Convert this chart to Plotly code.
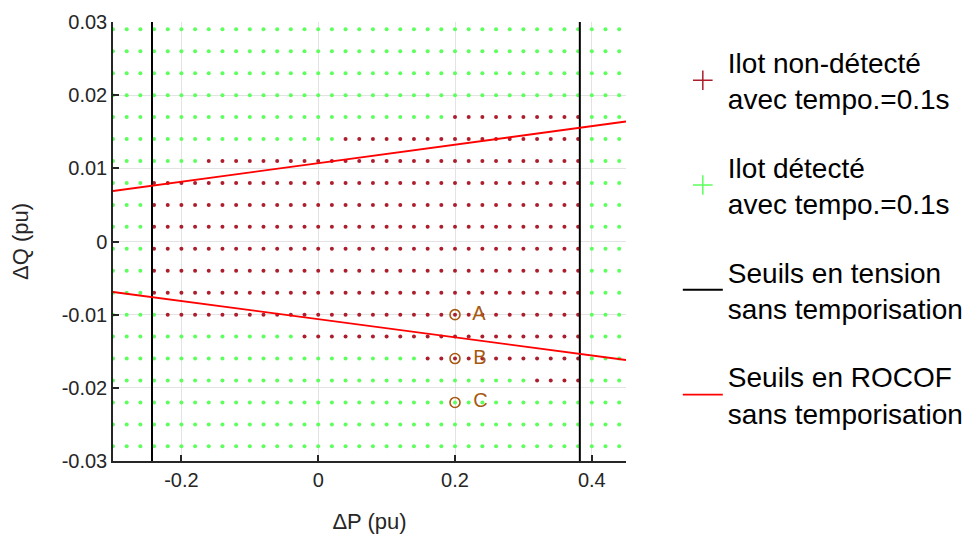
import plotly.graph_objects as go

# ---------------- data ----------------
dp_grid = [-0.30, -0.28, -0.26, -0.24, -0.22, -0.20, -0.18, -0.16, -0.14, -0.12,
           -0.10, -0.08, -0.06, -0.04, -0.02, 0.00, 0.02, 0.04, 0.06, 0.08,
           0.10, 0.12, 0.14, 0.16, 0.18, 0.20, 0.22, 0.24, 0.26, 0.28,
           0.30, 0.32, 0.34, 0.36, 0.38, 0.40, 0.42, 0.44]
dq_grid = [0.029, 0.026, 0.023, 0.020, 0.017, 0.014, 0.011, 0.008, 0.005, 0.002,
           -0.001, -0.004, -0.007, -0.010, -0.013, -0.016, -0.019, -0.022, -0.025, -0.028]

# rows where islanding is NOT detected (dQ value, dP from, dP to)
nd_rows_dq = [0.017, 0.014, 0.011, 0.008, 0.005, 0.002, -0.001, -0.004, -0.007,
              -0.010, -0.013, -0.016, -0.019]
nd_rows_dp_min = [0.20, 0.04, -0.16, -0.24, -0.24, -0.24, -0.24, -0.24, -0.24,
                  -0.22, -0.02, 0.16, 0.32]
nd_rows_dp_max = [0.38, 0.38, 0.38, 0.38, 0.38, 0.38, 0.38, 0.38, 0.38,
                  0.38, 0.38, 0.38, 0.38]

# voltage thresholds (no delay)
volt_dp = [-0.243, 0.3825]
# ROCOF thresholds (no delay)
rocof_dp = [-0.30, 0.45]
rocof_dq_upper = [0.0069, 0.0164]
rocof_dq_lower = [-0.0069, -0.0162]

# cases A, B, C
case_labels = ["A", "B", "C"]
case_dp = [0.20, 0.20, 0.20]
case_dq = [-0.010, -0.016, -0.022]

# ---------------- styles ----------------
GREEN = "#5CFF5C"
DRED = "#AC1E2C"
CASE_COL = "#A65A12"
FONT = "Liberation Sans, Arial, sans-serif"
TXT = "#262626"

# classify grid points
nd_x, nd_y, d_x, d_y = [], [], [], []
for q in dq_grid:
    row = None
    for i, rq in enumerate(nd_rows_dq):
        if abs(rq - q) < 1e-9:
            row = i
    for p in dp_grid:
        if row is not None and nd_rows_dp_min[row] - 1e-9 <= p <= nd_rows_dp_max[row] + 1e-9:
            nd_x.append(p); nd_y.append(q)
        else:
            d_x.append(p); d_y.append(q)

fig = go.Figure()

# dots
fig.add_trace(go.Scatter(x=d_x, y=d_y, mode="markers", showlegend=False,
                         marker=dict(color=GREEN, size=4, line=dict(width=0)),
                         hoverinfo="skip"))
fig.add_trace(go.Scatter(x=nd_x, y=nd_y, mode="markers", showlegend=False,
                         marker=dict(color=DRED, size=4, line=dict(width=0)),
                         hoverinfo="skip"))

# legend entries for dots ('+' markers)
fig.add_trace(go.Scatter(x=[None], y=[None], mode="markers", legendgroup="g1",
                         name="Ilot non-détecté<br>avec tempo.=0.1s",
                         marker=dict(symbol="cross-thin", size=14,
                                     line=dict(width=1.5, color=DRED))))
fig.add_trace(go.Scatter(x=[None], y=[None], mode="markers", legendgroup="g2",
                         name="Ilot détecté<br>avec tempo.=0.1s",
                         marker=dict(symbol="cross-thin", size=14,
                                     line=dict(width=1.5, color=GREEN))))

# voltage thresholds
vx, vy = [], []
for p in volt_dp:
    vx += [p, p, None]
    vy += [-0.03, 0.03, None]
fig.add_trace(go.Scatter(x=vx, y=vy, mode="lines", legendgroup="g3",
                         name="Seuils en tension<br>sans temporisation",
                         line=dict(color="black", width=2)))

# ROCOF thresholds
rx = rocof_dp + [None] + rocof_dp
ry = rocof_dq_upper + [None] + rocof_dq_lower
fig.add_trace(go.Scatter(x=rx, y=ry, mode="lines", legendgroup="g4",
                         name="Seuils en ROCOF<br>sans temporisation",
                         line=dict(color="red", width=1.8)))

# cases
fig.add_trace(go.Scatter(x=case_dp, y=case_dq, mode="markers+text", showlegend=False,
                         text=["  " + t for t in case_labels], textposition="middle right",
                         textfont=dict(family=FONT, size=20, color=CASE_COL),
                         marker=dict(symbol="circle-open", size=10,
                                     line=dict(width=1.6, color=CASE_COL), color=CASE_COL)))

# the page body has an 8px margin, so the figure is 8px smaller than the window
fig.update_layout(
    width=963, height=530,
    margin=dict(l=105, r=345, t=14, b=77, autoexpand=False),
    paper_bgcolor="white", plot_bgcolor="white",
    font=dict(family=FONT, color=TXT, size=18),
    legend=dict(x=1.101, y=0.965, xanchor="left", yanchor="top",
                font=dict(family=FONT, size=28, color="black"),
                tracegroupgap=29, itemwidth=40, bgcolor="rgba(0,0,0,0)"),
    xaxis=dict(range=[-0.3, 0.45], tickvals=[-0.2, 0, 0.2, 0.4],
               ticktext=["-0.2", "0", "0.2", "0.4"], automargin=False,
               showline=True, linecolor=TXT, linewidth=1.5, mirror=False,
               ticks="inside", ticklen=6, tickcolor=TXT, tickwidth=1.5,
               showgrid=True, gridcolor="#E3E3E3", zeroline=False,
               tickfont=dict(size=20, color=TXT),
               title=dict(text="ΔP (pu)", font=dict(size=22, color=TXT), standoff=24)),
    yaxis=dict(range=[-0.03, 0.03],
               tickvals=[-0.03, -0.02, -0.01, 0, 0.01, 0.02, 0.03],
               ticktext=["-0.03", "-0.02", "-0.01", "0", "0.01", "0.02", "0.03"],
               automargin=False,
               showline=True, linecolor=TXT, linewidth=1.5, mirror=False,
               ticks="inside", ticklen=6, tickcolor=TXT, tickwidth=1.5,
               showgrid=True, gridcolor="#E3E3E3", zeroline=False,
               tickfont=dict(size=20, color=TXT),
               title=dict(text="ΔQ (pu)", font=dict(size=22, color=TXT), standoff=27)),
)

fig.write_html("out.html")
